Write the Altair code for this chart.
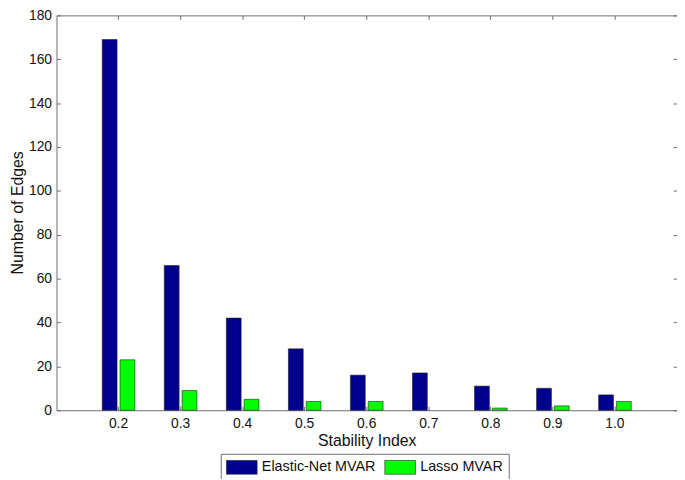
import altair as alt
import pandas as pd

stability = ["0.2", "0.3", "0.4", "0.5", "0.6", "0.7", "0.8", "0.9", "1.0"]
elastic_net = [169, 66, 42, 28, 16, 17, 11, 10, 7]
lasso = [23, 9, 5, 4, 4, 0, 1, 2, 4]
series = ["Elastic-Net MVAR", "Lasso MVAR"]
colors = ["#00008F", "#00FF00"]
y_ticks = [0, 20, 40, 60, 80, 100, 120, 140, 160, 180]

rows = []
for s, e, l in zip(stability, elastic_net, lasso):
    rows.append({"Stability": s, "Series": series[0], "Edges": e})
    rows.append({"Stability": s, "Series": series[1], "Edges": l})
df = pd.DataFrame(rows)

FONT = "Liberation Sans"
AX = "#6e6e6e"

x_scale = alt.Scale(paddingInner=0.474, paddingOuter=0.737)
y_scale = alt.Scale(domain=[0, 180], nice=False)
off_scale = alt.Scale(paddingInner=0.1667, paddingOuter=0)

bars = alt.Chart(df).transform_filter("datum.Edges > 0").mark_bar(
    stroke="#222222", strokeWidth=0.6).encode(
    x=alt.X("Stability:N", sort=stability, scale=x_scale,
            axis=alt.Axis(orient="bottom", title="Stability Index", labelAngle=0,
                          offset=-4, tickSize=4, domain=False, labelPadding=6,
                          titleY=35, titleBaseline="middle")),
    xOffset=alt.XOffset("Series:N", sort=series, scale=off_scale),
    y=alt.Y("Edges:Q", scale=y_scale,
            axis=alt.Axis(orient="left", title="Number of Edges", values=y_ticks,
                          offset=-4, tickSize=4, domain=False, labelPadding=5,
                          titleX=-43, titleY=199, titleBaseline="middle", titleAngle=270)),
    color=alt.Color("Series:N", sort=series,
                    scale=alt.Scale(domain=series, range=colors),
                    legend=alt.Legend(title=None, orient="none", direction="horizontal",
                                      legendX=166, legendY=443,
                                      symbolType="M-2,-0.9H2V0.9H-2Z", symbolSize=240,
                                      symbolOffset=7.75,
                                      symbolStrokeColor="#222222", symbolStrokeWidth=0.6,
                                      labelFontSize=14.5, labelFont=FONT, labelColor="#111111",
                                      labelOffset=11.75, columnPadding=7, padding=5,
                                      strokeColor=AX, fillColor="white")),
)

frame = alt.Chart(df).mark_bar(opacity=0).encode(
    x=alt.X("Stability:N", sort=stability, scale=x_scale,
            axis=alt.Axis(orient="top", title=None, labels=False,
                          offset=-4, tickSize=4, domain=False)),
    xOffset=alt.XOffset("Series:N", sort=series, scale=off_scale),
    y=alt.Y("Edges:Q", scale=y_scale,
            axis=alt.Axis(orient="right", title=None, labels=False, values=y_ticks,
                          offset=-4, tickSize=4, domain=False)),
)

chart = alt.layer(bars, frame).resolve_axis(x="independent", y="independent").properties(
    width=627, height=399,
    background="white",
    autosize=alt.AutoSizeParams(type="none"),
    padding={"left": 49, "top": 5, "right": 0, "bottom": 67},
).configure_view(
    stroke=AX, strokeWidth=1
).configure_axis(
    labelFont=FONT, titleFont=FONT, labelFontSize=14, titleFontSize=16,
    labelColor="#111111", titleColor="#111111", titleFontWeight="normal",
    tickColor=AX, grid=False
)

chart.save("out.html", embed_options={"renderer": "svg", "actions": False})
